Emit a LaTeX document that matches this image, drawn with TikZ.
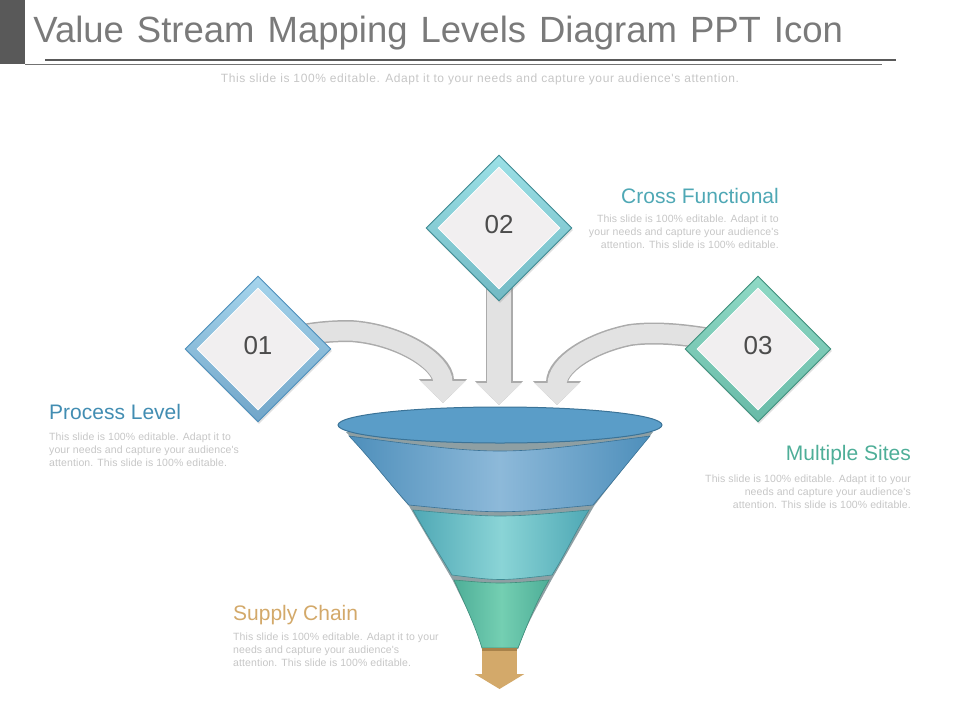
\documentclass[tikz,border=0pt]{standalone}
\usepackage{fontspec}
\setmainfont{Liberation Sans}
\newfontfamily\widefont[LetterSpace=5]{Liberation Sans}
\newfontfamily\blurbfont[LetterSpace=1]{Liberation Sans}
\usepackage{xcolor}
\usetikzlibrary{backgrounds}
\usetikzlibrary{arrows.meta}
\usetikzlibrary{shapes.geometric}
\usetikzlibrary{shadows}

\definecolor{headgrey}{HTML}{595959}
\definecolor{titlegrey}{HTML}{7A7A7A}
\definecolor{bodygrey}{HTML}{C6C6C6}
\definecolor{tilefill}{HTML}{F1EFF0}
\definecolor{arrowfill}{HTML}{E2E2E2}
\definecolor{arrowline}{HTML}{ABABAB}
\definecolor{goldfill}{HTML}{D3A96A}
\definecolor{goldline}{HTML}{A8824A}
\definecolor{gapgrey}{HTML}{8E9FA3}
\definecolor{rimblue}{HTML}{5A9DC8}
\definecolor{rimline}{HTML}{3B7397}
\definecolor{blueedge}{HTML}{4E8FBB}
\definecolor{bluemid}{HTML}{8DB9D9}
\definecolor{tealedge}{HTML}{4FA8B5}
\definecolor{tealmid}{HTML}{8AD4D6}
\definecolor{tealline}{HTML}{3F8A92}
\definecolor{greenedge}{HTML}{4EAE98}
\definecolor{greenmid}{HTML}{74CFB2}
\definecolor{greenline}{HTML}{3F8F7C}
\definecolor{frameblue}{HTML}{A5D4EC}
\definecolor{frameteal}{HTML}{9BE0E6}
\definecolor{framegreen}{HTML}{8FD9C5}

\newcommand{\tilenum}[1]{\raisebox{3.5pt}[\height][\depth]{#1}}
\newcommand{\titlefont}{\fontsize{36.5}{40}\selectfont\spaceskip=13pt\relax}

\begin{document}
\begin{tikzpicture}[x=1pt,y=-1pt,thick]
  \tikzstyle{every node}=[inner sep=0pt,text=black]
  \tikzstyle{frame}=[shape=diamond,minimum width=146pt,minimum height=146pt,line width=.9pt,drop shadow={shadow xshift=1pt,shadow yshift=-2pt,opacity=.25}]
  \tikzstyle{tile}=[shape=diamond,minimum width=122pt,minimum height=122pt,fill=tilefill,draw=white,line width=.8pt,font=\fontsize{26}{30}\selectfont,text=black!70]
  \tikzstyle{heading}=[font=\fontsize{21}{24}\selectfont]
  \tikzstyle{blurb}=[font=\blurbfont\fontsize{10.5}{13}\selectfont,text=bodygrey]
  \tikzstyle{curvedbody}=[-{Triangle[length=22pt,width=44pt]},line width=19pt,draw=arrowfill,
    preaction={draw=arrowline,line width=22pt,-{Triangle[length=24pt,width=47pt]}}]
  \tikzstyle{straightbody}=[-{Triangle[length=22pt,width=44pt]},line width=24pt,draw=arrowfill,
    preaction={draw=arrowline,line width=27pt,-{Triangle[length=24pt,width=47pt]}}]
  \useasboundingbox (0,0) rectangle (960,720);

  \fill [headgrey] (0,0) rectangle (25,64);
  \draw [headgrey,line width=1.5pt] (45,60) -- (896,60);
  \draw [black!55,line width=.6pt] (25,64) -- (882,64);
  \node [anchor=west,font=\titlefont,text=titlegrey] (title) at (33,33) {Value Stream Mapping Levels Diagram PPT Icon};
  \node [font=\widefont\fontsize{12}{13}\selectfont,text=bodygrey] (sub) at (480,79) {This slide is 100\% editable. Adapt it to your needs and capture your audience's attention.};

  % the three tiles
  \node [frame,draw=blueedge,top color=frameblue,bottom color=blueedge!80] (1) at (258,349) {};
  \node [tile] (1t) at (1) {\tilenum{01}};
  \node [frame,draw=tealline,top color=frameteal,bottom color=tealedge!80] (2) at (499,228) {};
  \node [tile] (2t) at (2) {\tilenum{02}};
  \node [frame,draw=greenline,top color=framegreen,bottom color=greenedge!85] (3) [right of=1,node distance=500pt] {};
  \node [tile] (3t) at (3) {\tilenum{03}};

  \coordinate (t1) at (443,403);
  \coordinate (t2) at (499,405);
  \coordinate (t3) at (557,405);
  \begin{pgfonlayer}{background}
    \draw [curvedbody] (1.center) .. controls (290,335) and (320,331) .. (350,331) .. controls (400,334) and (443,362) .. (t1);
    \draw [straightbody] (2.center) -- (t2);
    \draw [curvedbody] (3.center) .. controls (700,335) and (660,331) .. (630,335) .. controls (590,343) and (557,365) .. (t3);
  \end{pgfonlayer}

  % funnel
  \fill [gapgrey] (346,432) .. controls (500,440) .. (653,432) .. controls (630,460) and (610,485) .. (594,506) -- (552,579) .. controls (527,625) .. (518,649) -- (482,649) .. controls (475,625) .. (452,579) -- (409,506) .. controls (392,487) and (372,460) .. cycle;
  \draw [draw=rimline,line width=.6pt,left color=blueedge,right color=blueedge,middle color=bluemid]
    (349,436) .. controls (500,456) .. (650,436) .. controls (630,460) and (610,485) .. (593,505) .. controls (500,514) .. (409,505) .. controls (392,487) and (372,460) .. cycle;
  \draw [draw=tealline,line width=.6pt,left color=tealedge,right color=tealedge,middle color=tealmid]
    (413,510) .. controls (500,518) .. (589,510) .. controls (575,532) and (565,555) .. (552,575) .. controls (500,581) .. (452,575) .. controls (440,555) and (425,532) .. cycle;
  \draw [draw=greenline,line width=.6pt,left color=greenedge,right color=greenedge,middle color=greenmid]
    (454,580) .. controls (500,584) .. (549,580) .. controls (537,600) and (527,625) .. (518,648) -- (482,648) .. controls (475,625) and (463,600) .. cycle;
  \node [shape=ellipse,minimum width=324pt,minimum height=36pt,fill=rimblue,draw=rimline,line width=1pt] (rim) at (500,425) {};

  \coordinate (b4) at (499.5,649);
  \coordinate (t4) at (499.5,689);
  \draw [-{Triangle[length=15pt,width=49pt]},line width=35pt,draw=goldfill] (b4) -- (t4);
  \fill [goldline] (482,648) rectangle (517,651);

  % captions
  \node [heading,anchor=west,text=blueedge!85!teal] (h1) at (49,412) {Process Level};
  \node [blurb,anchor=north west,align=left] (b1) at (49,433) {This slide is 100\% editable. Adapt it to\\your needs and capture your audience's\\attention. This slide is 100\% editable.};
  \node [heading,anchor=east,text=tealedge] (h2) at (779,196) {Cross Functional};
  \node [blurb,anchor=north east,align=right] (b2) at (779,215) {This slide is 100\% editable. Adapt it to\\your needs and capture your audience's\\attention. This slide is 100\% editable.};
  \node [heading,anchor=east,text=greenedge] (h3) at (911,455) {Multiple Sites};
  \node [blurb,anchor=north east,align=right] (b3) at (911,475) {This slide is 100\% editable. Adapt it to your\\needs and capture your audience's\\attention. This slide is 100\% editable.};
  \node [heading,anchor=west,text=goldfill] (h4) at (233,615) {Supply Chain};
  \node [blurb,anchor=north west,align=left] (b4t) at (233,633) {This slide is 100\% editable. Adapt it to your\\needs and capture your audience's\\attention. This slide is 100\% editable.};
\end{tikzpicture}
\end{document}
